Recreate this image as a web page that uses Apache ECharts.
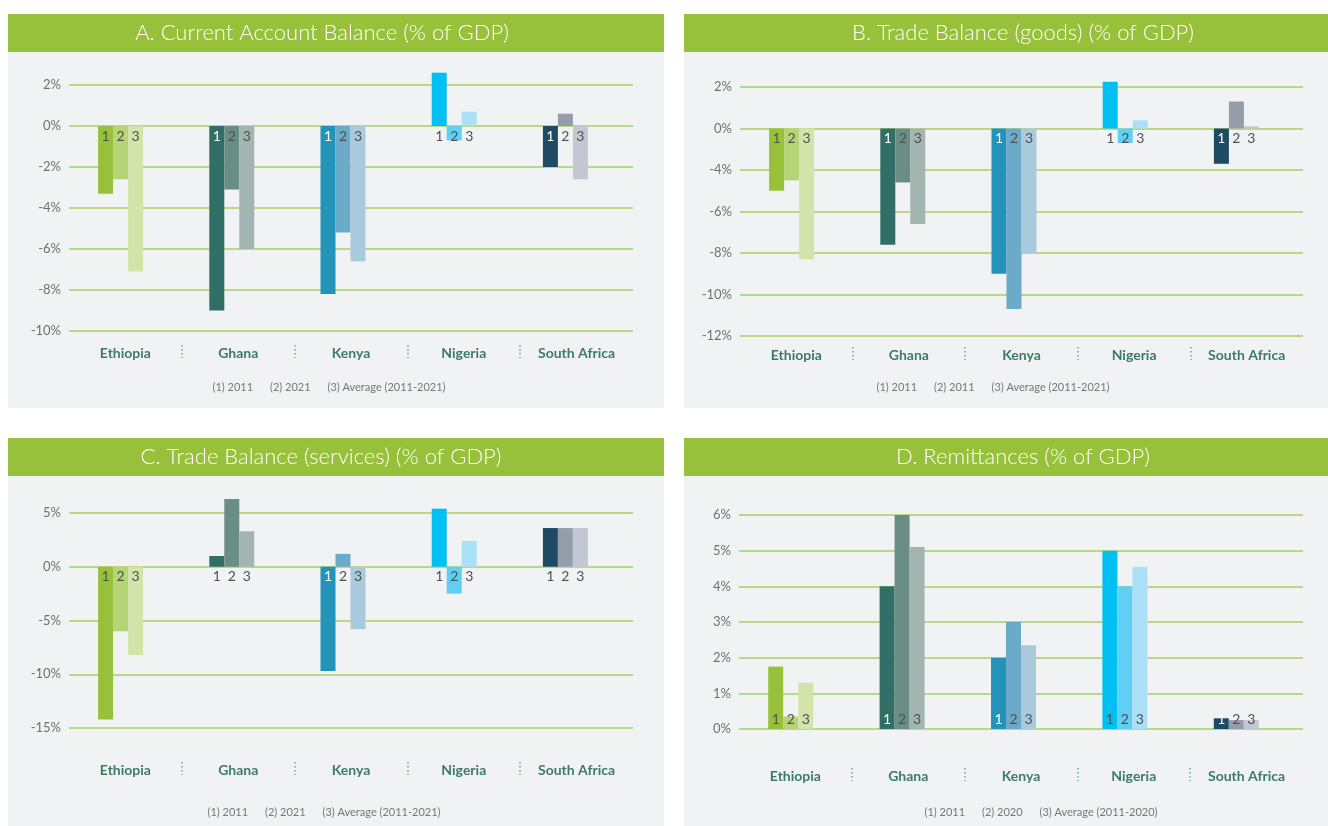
<!DOCTYPE html>
<html>
<head>
<meta charset="utf-8">
<title>Balance of payments indicators</title>
<script src="https://cdn.jsdelivr.net/npm/echarts@6/dist/echarts.min.js"></script>
<style>
  html, body { margin: 0; padding: 0; background: #ffffff; }
  #wrap { position: relative; width: 1328px; height: 826px; overflow: hidden; }
  .panel { position: absolute; background: #f1f2f4; }
  .bar { position: absolute; background: #97c13a; }
  #chart { position: absolute; left: 0; top: 0; width: 1328px; height: 826px; }
</style>
</head>
<body>
<div id="wrap">
  <div class="panel" style="left:8px;top:14px;width:656px;height:394px"></div>
  <div class="panel" style="left:684px;top:14px;width:644px;height:394px"></div>
  <div class="panel" style="left:8px;top:438px;width:656px;height:388px"></div>
  <div class="panel" style="left:684px;top:438px;width:644px;height:388px"></div>
  <div class="bar" style="left:8px;top:14px;width:656px;height:38px"></div>
  <div class="bar" style="left:684px;top:14px;width:644px;height:38px"></div>
  <div class="bar" style="left:8px;top:438px;width:656px;height:38px"></div>
  <div class="bar" style="left:684px;top:438px;width:644px;height:38px"></div>
  <div id="chart"></div>
</div>
<script>
// Countries shown on every panel
const categories = ['Ethiopia', 'Ghana', 'Kenya', 'Nigeria', 'South Africa'];
const seriesNames = ['1', '2', '3'];

// A. Current account balance (% of GDP)
const caY2011 = [-3.3, -9.0, -8.2, 2.6, -2.0];
const caY2021 = [-2.6, -3.1, -5.2, -0.7, 0.6];
const caAvg   = [-7.1, -6.0, -6.6, 0.7, -2.6];
const caTicks = ['-10%', '-8%', '-6%', '-4%', '-2%', '0%', '2%'];

// B. Trade balance, goods (% of GDP)
const tgY2011  = [-3.0, -5.6, -7.0, 2.25, -1.7];
const tgY2011b = [-2.5, -2.6, -8.7, -0.7, 1.3];
const tgAvg    = [-6.3, -4.6, -6.0, 0.4, 0.1];
const tgTicks  = ['-12%', '-10%', '-8%', '-6%', '-4%', '0%', '2%'];

// C. Trade balance, services (% of GDP)
const tsY2011 = [-14.2, 1.0, -9.7, 5.4, 3.6];
const tsY2021 = [-6.0, 6.3, 1.2, -2.5, 3.6];
const tsAvg   = [-8.2, 3.3, -5.8, 2.4, 3.6];
const tsTicks = ['-15%', '-10%', '-5%', '0%', '5%'];

// D. Remittances (% of GDP)
const remY2011 = [1.75, 4.0, 2.0, 5.0, 0.3];
const remY2020 = [0.35, 6.0, 3.0, 4.0, 0.25];
const remAvg   = [1.3, 5.1, 2.35, 4.55, 0.25];
const remTicks = ['0%', '1%', '2%', '3%', '4%', '5%', '6%'];

// Titles and footnotes
const titles = [
  'A. Current Account Balance (% of GDP)',
  'B. Trade Balance (goods) (% of GDP)',
  'C. Trade Balance (services) (% of GDP)',
  'D. Remittances (% of GDP)'
];
const notes = [
  '(1) 2011      (2) 2021      (3) Average (2011-2021)',
  '(1) 2011      (2) 2011      (3) Average (2011-2021)',
  '(1) 2011      (2) 2021      (3) Average (2011-2021)',
  '(1) 2011      (2) 2020      (3) Average (2011-2020)'
];

// Shades per country: [first, second, third bar]
const palette = [
  ['#97c13a', '#b5d475', '#d3e4ab'],
  ['#316f66', '#6a8e86', '#a3b5b1'],
  ['#2393ba', '#6baac8', '#a9c9dd'],
  ['#00bff3', '#5fcff3', '#aae1f8'],
  ['#1e4b63', '#959daa', '#c3c7d1']
];
const lightText = '#ffffff';
const darkText = '#505050';
const numberColors = [
  [darkText, darkText, darkText],
  [lightText, darkText, darkText],
  [lightText, darkText, darkText],
  [darkText, darkText, darkText],
  [lightText, darkText, darkText]
];

const FONT = 'Lato, "Open Sans", "DejaVu Sans", sans-serif';

// Panel geometry (pixels)
const panels = [
  { series: [caY2011, caY2021, caAvg], ticks: caTicks, min: -10, max: 2, step: 2, up: false,
    axisGrid: { left: 69, top: 85, width: 564, height: 246 },
    barGrid:  { left: 65, top: 85, width: 556, height: 246 },
    labelMargin: 15, sepOffset: 14, titleX: 322, titleY: 33, noteX: 329, noteY: 387 },
  { series: [tgY2011, tgY2011b, tgAvg], ticks: tgTicks, min: -10, max: 2, step: 2, up: false,
    axisGrid: { left: 740, top: 87, width: 563, height: 249 },
    barGrid:  { left: 736, top: 87, width: 556, height: 249 },
    labelMargin: 12, sepOffset: 11, titleX: 1023, titleY: 33, noteX: 993, noteY: 387 },
  { series: [tsY2011, tsY2021, tsAvg], ticks: tsTicks, min: -15, max: 5, step: 5, up: false,
    axisGrid: { left: 69, top: 513, width: 564, height: 215 },
    barGrid:  { left: 65, top: 513, width: 556, height: 215 },
    labelMargin: 35, sepOffset: 34, titleX: 321, titleY: 457, noteX: 324, noteY: 812 },
  { series: [remY2011, remY2020, remAvg], ticks: remTicks, min: 0, max: 6, step: 1, up: true,
    axisGrid: { left: 739, top: 515, width: 564, height: 214 },
    barGrid:  { left: 735, top: 515, width: 557, height: 214 },
    labelMargin: 40, sepOffset: 39, titleX: 1023, titleY: 457, noteX: 1041, noteY: 812 }
];

const grid = [], xAxis = [], yAxis = [], series = [], graphic = [];

panels.forEach((p, i) => {
  const gA = grid.length;
  grid.push(p.axisGrid);
  const gB = grid.length;
  grid.push(p.barGrid);

  // Axis grid: gridlines, percent labels, country names, dotted separators
  yAxis.push({
    gridIndex: gA, type: 'value', min: p.min, max: p.max, interval: p.step,
    axisLine: { show: false }, axisTick: { show: false },
    splitLine: { lineStyle: { color: '#a8cf62', width: 1.6 } },
    axisLabel: {
      margin: 8, color: '#707070', fontSize: 13, fontFamily: FONT,
      formatter: v => p.ticks[Math.round((v - p.min) / p.step)]
    }
  });
  xAxis.push({
    gridIndex: gA, type: 'category', data: categories,
    axisLine: { show: false }, axisTick: { show: false },
    axisLabel: { margin: p.labelMargin, color: '#3c7a6b', fontSize: 14, fontWeight: 'bold', fontFamily: FONT }
  });
  xAxis.push({
    gridIndex: gA, type: 'value', min: 0, max: categories.length, position: 'bottom',
    offset: p.sepOffset,
    axisLine: { show: false }, splitLine: { show: false }, axisLabel: { show: false },
    axisTick: {
      show: true, length: 13, customValues: [1, 2, 3, 4],
      lineStyle: { color: '#7d9c91', type: [1.5, 2.5], width: 1.5 }
    }
  });

  // Bar grid: hidden axes on the same value range
  const yB = yAxis.length;
  yAxis.push({ gridIndex: gB, type: 'value', min: p.min, max: p.max, interval: p.step, show: false, splitLine: { show: false } });
  const xB = xAxis.length;
  xAxis.push({ gridIndex: gB, type: 'category', data: categories, show: false });

  p.series.forEach((vals, s) => {
    series.push({
      type: 'bar', name: seriesNames[s], xAxisIndex: xB, yAxisIndex: yB,
      barWidth: 15, barGap: '0%', clip: false,
      data: vals.map((v, c) => {
        const outside = !p.up && v >= 0;
        return {
          value: v,
          itemStyle: { color: palette[c][s] },
          label: {
            show: true,
            position: p.up ? 'insideBottom' : (outside ? 'bottom' : 'insideTop'),
            distance: 3,
            color: outside ? darkText : numberColors[c][s]
          }
        };
      }),
      label: { formatter: '{a}', fontSize: 14, fontFamily: FONT },
      emphasis: { disabled: true },
      animation: false
    });
  });

  graphic.push({
    type: 'text', x: p.titleX, y: p.titleY, silent: true,
    style: { text: titles[i], fill: '#ffffff', font: '300 22px ' + FONT, textAlign: 'center', textVerticalAlign: 'middle' }
  });
  graphic.push({
    type: 'text', x: p.noteX, y: p.noteY, silent: true,
    style: { text: notes[i], fill: '#777777', font: '11px ' + FONT, textAlign: 'center', textVerticalAlign: 'middle' }
  });
});

const chart = echarts.init(document.getElementById('chart'), null, { renderer: 'canvas' });
chart.setOption({
  backgroundColor: 'transparent',
  animation: false,
  grid, xAxis, yAxis, series, graphic
});
</script>
</body>
</html>
